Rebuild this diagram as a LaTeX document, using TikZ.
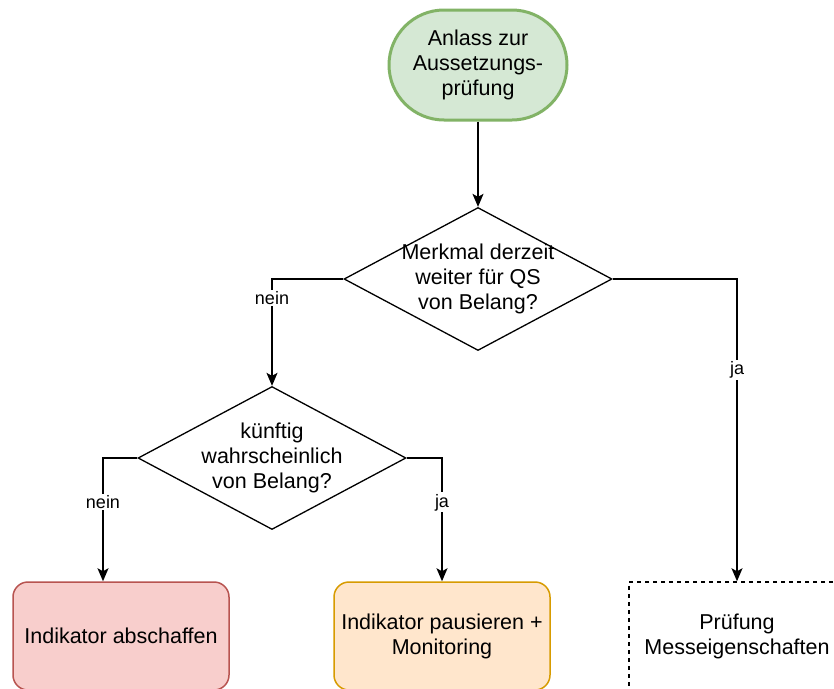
\documentclass[tikz,border=0pt]{standalone}
\usepackage{fontspec}
\setmainfont{Liberation Sans}
\usepackage{tikz}
\usetikzlibrary{arrows.meta}
\usetikzlibrary{shapes.geometric}
\definecolor{mgreen}{HTML}{D5E8D4}
\definecolor{mgreenline}{HTML}{82B366}
\definecolor{mred}{HTML}{F8CECC}
\definecolor{mredline}{HTML}{B85450}
\definecolor{morange}{HTML}{FFE6CC}
\definecolor{morangeline}{HTML}{D79B00}
\tikzset{
    flow/.style={line width=1.3pt, -{Stealth[length=13pt, width=11pt, inset=3pt]}},
    startstop/.style={draw=mgreenline, fill=mgreen, line width=3pt, rounded corners=55pt,
        minimum width=178pt, minimum height=110pt, align=center, font=\fontsize{21.5}{25}\selectfont},
    decision/.style={diamond, draw, line width=1.3pt, minimum width=268pt, minimum height=143pt, inner sep=0pt},
    dectext/.style={align=center, font=\fontsize{21.5}{25}\selectfont},
    outcome/.style={rounded corners=15pt, line width=1.5pt, minimum width=216pt, minimum height=108pt,
        align=center, font=\fontsize{21.5}{25}\selectfont},
    choice/.style={fill=white, inner sep=1.5pt, font=\fontsize{18}{20}\selectfont}
}

\begin{document}
\begin{tikzpicture}[x=1pt, y=-1pt]
    \clip (0, 0) rectangle (834, 688);
    \fill [white] (0, 0) rectangle (834, 688);

    \node [startstop] (anlass) at (478, 65) {Anlass zur\\Aussetzungs-\\prüfung};
    \node [decision, label={[dectext]center:{Merkmal derzeit\\weiter für QS\\von Belang?}}] (merkmal) at (478, 279) {};
    \node [decision, label={[dectext]center:{künftig\\wahrscheinlich\\von Belang?}}] (kuenftig) at (272, 458) {};

    \node [outcome, draw=mredline, fill=mred] (abschaffen) at (121, 636) {Indikator abschaffen};
    \node [outcome, draw=morangeline, fill=morange] (pausieren) at (442, 636) {Indikator pausieren +\\Monitoring};
    \node [outcome, sharp corners, draw, dash pattern=on 4pt off 4pt] (pruefung) at (737, 636) {Prüfung\\Messeigenschaften};

    \draw [flow] (anlass) -- (merkmal);
    \draw [flow] (merkmal.west) -| node [choice, pos=0.59] {nein} (kuenftig.north);
    \draw [flow] (merkmal.east) -| node [choice, pos=0.65] {ja} (pruefung.north);
    \draw [flow] (kuenftig.west) -| node [choice, pos=0.68] {nein} ([xshift=-18pt]abschaffen.north);
    \draw [flow] (kuenftig.east) -| node [choice, pos=0.68] {ja} (pausieren.north);
  \end{tikzpicture}
\end{document}
